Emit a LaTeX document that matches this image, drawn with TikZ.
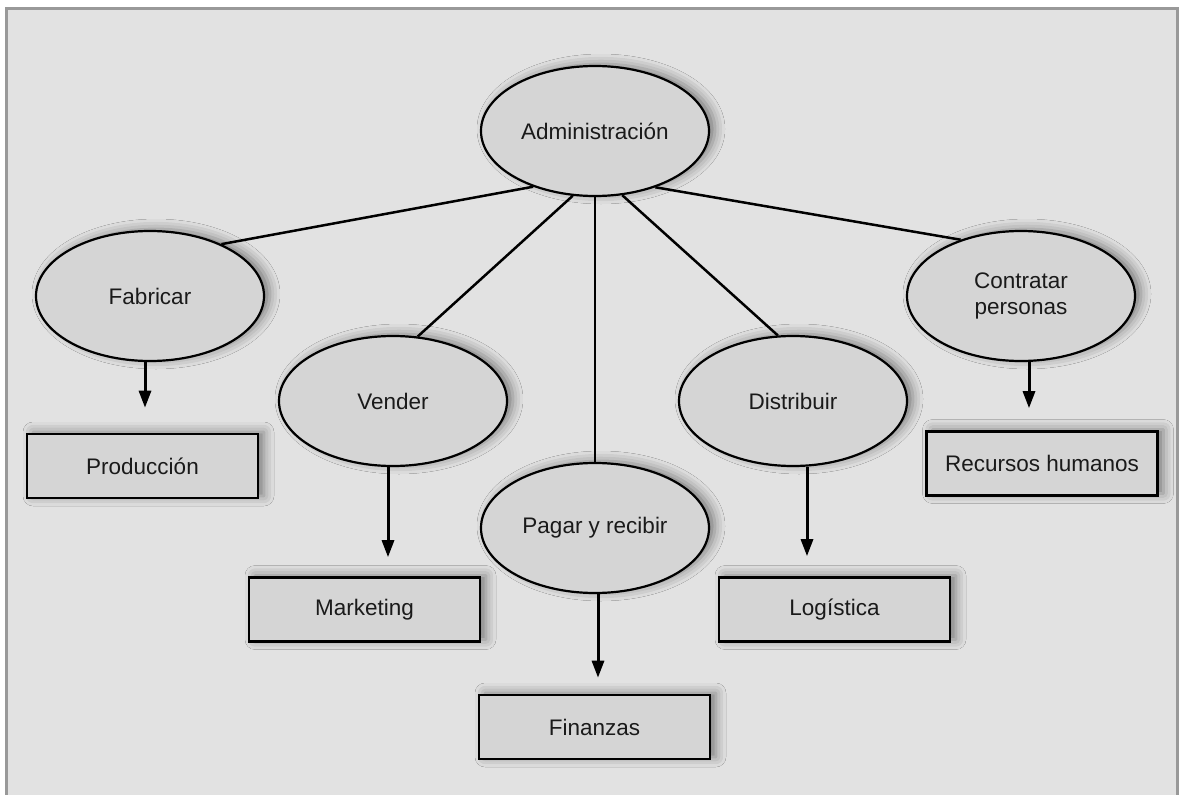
\documentclass[tikz,border=0pt]{standalone}
\usepackage{fontspec}
\setmainfont{Liberation Sans}
\usetikzlibrary{shapes.geometric,arrows.meta,shadows.blur}
\definecolor{bgc}{HTML}{E2E2E2}
\definecolor{nodec}{HTML}{D5D5D5}
\definecolor{framec}{HTML}{999999}
\definecolor{textc}{HTML}{1A1A1A}
\begin{document}
\begin{tikzpicture}[x=1pt,y=-1pt,
  softshadow/.style={blur shadow={shadow xshift=6pt, shadow yshift=2pt, shadow blur radius=10pt, shadow opacity=45}},
  oval/.style={ellipse, draw=black, line width=2.2pt, fill=nodec, minimum width=228pt, minimum height=130pt, inner sep=0pt, font=\fontsize{22.5}{26}\selectfont, text=textc, align=center, softshadow},
  box/.style={rectangle, draw=black, line width=2.6pt, fill=nodec, minimum width=231pt, minimum height=64pt, inner sep=0pt, font=\fontsize{22.5}{26}\selectfont, text=textc, softshadow},
  link/.style={line width=2.5pt, draw=black},
  arr/.style={line width=3pt, draw=black, -{Triangle[length=17pt,width=12pt]}}]
\useasboundingbox (0,0) rectangle (1179,795);
\fill[white] (0,0) rectangle (1179,795);
\fill[bgc] (6.5,8.5) rectangle (1177.5,795);
\draw[framec, line width=3pt] (6.5,800) -- (6.5,8.5) -- (1177.5,8.5) -- (1177.5,800);

% ovals
\node[oval] (adm) at (595,131) {Administración};
\node[oval] (fab) at (150,296) {Fabricar};
\node[oval] (ven) at (393,401) {Vender};
\node[oval] (pag) at (595,528) {Pagar y recibir};
\node[oval] (dis) at (793,401) {Distribuir};
\node[oval] (con) at (1021,296) {Contratar\\personas};

% boxes
\node[box] (prod) at (142.5,466) {Producción};
\node[box] (mkt) at (364.5,609.5) {Marketing};
\node[box] (fin) at (594.5,727) {Finanzas};
\node[box] (log) at (834.5,609.5) {Logística};
\node[box] (rh) at (1042,463.5) {Recursos humanos};

% links from Administración
\draw[link] (adm.222) -- (fab.36);
\draw[link] (adm.251) -- (ven.69);
\draw[link] (adm.south) -- (pag.north);
\draw[link] (adm.293) -- (dis.103);
\draw[link] (adm.317) -- (con.137);

% arrows
\coordinate (fa) at ([xshift=-5pt]fab.south);
\draw[arr, shorten >=25pt] (fa) -- (fa |- prod.north);
\coordinate (va) at ([xshift=-5pt]ven.south);
\draw[arr, shorten >=19pt] (va) -- (va |- mkt.north);
\coordinate (pa) at ([xshift=3pt]pag.south);
\draw[arr, shorten >=16pt] (pa) -- (pa |- fin.north);
\coordinate (da) at ([xshift=14pt]dis.south);
\draw[arr, shorten >=20pt] (da) -- (da |- log.north);
\coordinate (ca) at ([xshift=8pt]con.south);
\draw[arr, shorten >=22pt] (ca) -- (ca |- rh.north);
\end{tikzpicture}
\end{document}
